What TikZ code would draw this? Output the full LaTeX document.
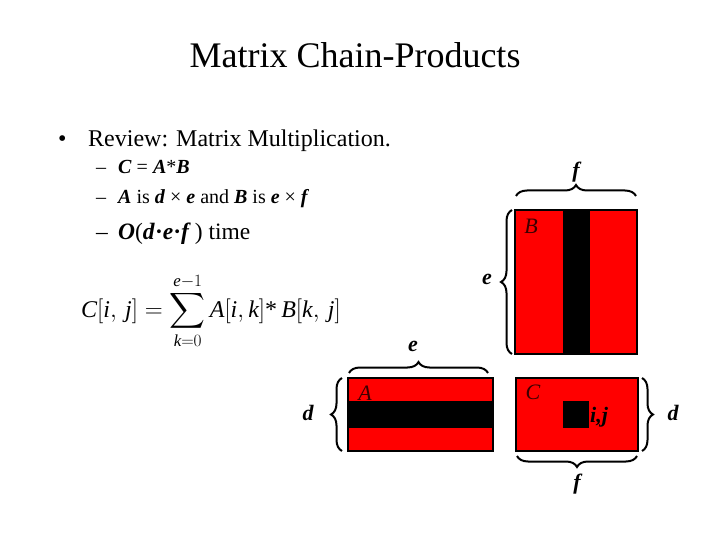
\documentclass[tikz,border=0pt]{standalone}
\usepackage{amsmath}
\usepackage{fontspec}
\setmainfont{Liberation Serif}
\usetikzlibrary{decorations.pathreplacing}
\definecolor{matred}{HTML}{FF0000}
\definecolor{lbl}{HTML}{3A0000}
\begin{document}
\begin{tikzpicture}[x=1pt,y=-1pt,
  mat/.style={fill=matred,draw=black,line width=2.5pt},
  bar/.style={fill=black,draw=none},
  brc/.style={decorate,decoration={brace,amplitude=11pt},line width=2pt},
  dim/.style={font=\fontsize{22}{26}\selectfont\bfseries\itshape,inner sep=0pt},
  mlbl/.style={font=\fontsize{22}{26}\selectfont\itshape,text=lbl,inner sep=0pt},
  txt/.style={anchor=base west,inner sep=0pt}]
\useasboundingbox (0,0) rectangle (720,540);
\fill[white] (0,0) rectangle (720,540);
% title
\node[anchor=base,inner sep=0pt,font=\fontsize{36}{40}\selectfont] (title) at (355,68) {Matrix Chain-Products};
% bullet
\node[txt,font=\fontsize{24}{28}\selectfont] (bul) at (58,147) {•};
\node[txt,font=\fontsize{24}{28}\selectfont] (rev) at (88,147) {Review: Matrix Multiplication.};
% sub items
\node[txt,font=\fontsize{20}{24}\selectfont] (d1) at (96,174) {–};
\node[txt,font=\fontsize{20}{24}\selectfont] (s1) at (118,174) {\textbf{\textit{C}} = \textbf{\textit{A}}*\textbf{\textit{B}}};
\node[txt,font=\fontsize{20}{24}\selectfont] (d2) at (96,204) {–};
\node[txt,font=\fontsize{20}{24}\selectfont] (s2) at (118,204) {\textbf{\textit{A}} is \textbf{\textit{d}} × \textbf{\textit{e}} and \textbf{\textit{B}} is \textbf{\textit{e}} × \textbf{\textit{f}}};
\node[txt,font=\fontsize{23.5}{28}\selectfont] (d3) at (96,240) {–};
\node[txt,font=\fontsize{23.5}{28}\selectfont] (s3) at (118,240) {\textbf{\textit{O}}(\textbf{\textit{d}}\textbf{·}\textbf{\textit{e}}\textbf{·}\textbf{\textit{f}}\,) time};
% formula
\node[inner sep=0pt,font=\fontsize{24}{29}\selectfont] (form) at (211,311) {$\displaystyle \mathit{C}[\mathit{i},\,\mathit{j}]=\sum_{\mathit{k}=0}^{\mathit{e}-1}\mathit{A}[\mathit{i},\mathit{k}]\text{*}\,\mathit{B}[\mathit{k},\,\mathit{j}]$};
% matrix B
\draw[mat] (515,210) rectangle (637,354);
\fill[bar] (563,210) rectangle (590,354);
\draw[line width=2.5pt] (515,210) rectangle (637,354);
\node[mlbl] (lB) at (531,226) {B};
% matrix A
\draw[mat] (348,378) rectangle (493,451);
\fill[bar] (348,401) rectangle (493,428);
\draw[line width=2.5pt] (348,378) rectangle (493,451);
\node[mlbl] (lA) at (365,393) {A};
% matrix C
\draw[mat] (516,378) rectangle (638,451);
\fill[bar] (563,401) rectangle (589,428);
\node[mlbl] (lC) at (533,392) {C};
\node[dim,anchor=west] (lij) at (590,417) {i,j};
% braces
\coordinate (bt1) at (516,196); \coordinate (bt2) at (636,196);
\draw[brc] (bt1) -- (bt2);
\node[dim] (fB) at (576,172) {f};
\coordinate (bl1) at (512,354); \coordinate (bl2) at (512,210);
\draw[brc] (bl1) -- (bl2);
\node[dim] (eB) at (487,279) {e};
\coordinate (at1) at (349,373); \coordinate (at2) at (488,373);
\draw[brc] (at1) -- (at2);
\node[dim] (eA) at (413,346) {e};
\coordinate (al1) at (342,451); \coordinate (al2) at (342,378);
\draw[brc] (al1) -- (al2);
\node[dim] (dA) at (308,413) {d};
\coordinate (cr1) at (642,378); \coordinate (cr2) at (642,451);
\draw[brc] (cr1) -- (cr2);
\node[dim] (dC) at (673,413) {d};
\coordinate (cb1) at (637,456); \coordinate (cb2) at (517,456);
\draw[brc] (cb1) -- (cb2);
\node[dim] (fC) at (577,484) {f};
\end{tikzpicture}
\end{document}
